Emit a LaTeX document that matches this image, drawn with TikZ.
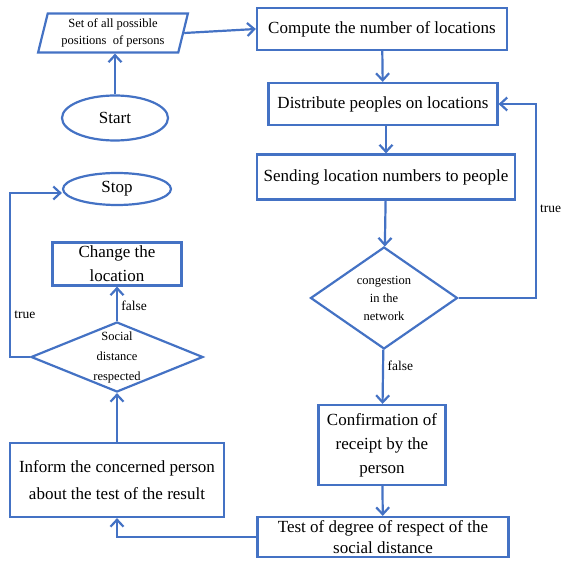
\documentclass[tikz,border=0pt]{standalone}
\usepackage{fontspec}
\setmainfont{Liberation Serif}
\usepackage{tikz}
\usetikzlibrary{shapes, arrows.meta, positioning, shapes.geometric}
\definecolor{flowblue}{RGB}{68,114,196}
\tikzset{%
  block/.style={rectangle, draw=flowblue, line width=2.2pt, align=center, inner sep=0pt, font=\fontsize{17}{24}\selectfont},
  decision/.style={diamond, draw=flowblue, line width=2.2pt, align=center, inner sep=0pt, font=\fontsize{12.5}{18}\selectfont},
  startstop/.style={ellipse, draw=flowblue, line width=2.2pt, align=center, font=\fontsize{17}{20}\selectfont},
  io/.style={trapezium, trapezium left angle=75, trapezium right angle=105, trapezium stretches=true, draw=flowblue, line width=2.2pt, align=center, inner sep=0pt, font=\fontsize{12.5}{17}\selectfont},
  lbl/.style={font=\fontsize{13.5}{16}\selectfont},
  line/.style={draw=flowblue, line width=2.2pt, -{Straight Barb[length=7pt, width=13pt]}}}

\begin{document}
\begin{tikzpicture}[x=1pt, y=-1pt]
    \useasboundingbox (0,0) rectangle (563,561);
    % Input and start
    \node (positions) [io, minimum width=150pt, minimum height=39pt] at (113,33) {Set of all possible\\positions\ \ of persons};
    \node (start) [startstop, minimum width=106pt, minimum height=45pt] at (115,118) {Start};
    % Right column
    \node (compute) [block, minimum width=250pt, minimum height=42pt] at (382,29) {Compute the number of locations};
    \node (distribute) [block, minimum width=229pt, minimum height=42pt] at (383,104) {Distribute peoples on locations};
    \node (sending) [block, minimum width=258pt, minimum height=45pt] at (386,177) {Sending location numbers to people};
    \node (congestion) [decision, minimum width=147pt, minimum height=102pt] at (384,298) {congestion\\in the\\network};
    \node (confirm) [block, minimum width=127pt, minimum height=80pt] at (382,445) {Confirmation of\\receipt by the\\person};
    \node (test) [block, minimum width=251pt, minimum height=40pt, font=\fontsize{17}{21}\selectfont] at (383,537) {Test of degree of respect of the\\social distance};
    % Left column
    \node (inform) [block, minimum width=214pt, minimum height=74pt, font=\fontsize{17}{27}\selectfont] at (117,480) {Inform the concerned person\\about the test of the result};
    \node (social) [decision, minimum width=172pt, minimum height=70pt, inner sep=-9pt, font=\fontsize{12.5}{20}\selectfont] at (117,357) {Social\\distance\\respected};
    \node (change) [block, minimum width=129pt, minimum height=43pt] at (117,264) {Change the\\location};
    \node (stop) [startstop, minimum width=108pt, minimum height=32pt] at (117,189) {Stop};
    % Arrows
    \draw[line] (start.north) -- (start.north |- positions.south);
    \draw[line] (positions.east) -- (compute.west);
    \draw[line] (compute) -- (distribute);
    \draw[line] (distribute.south -| sending.north) -- (sending.north);
    \draw[line] (sending) -- (congestion);
    \draw[line] (congestion.east) -- ++(77,0) |- (distribute.east) node[lbl, right, pos=0.23] {true};
    \draw[line] (congestion) -- node[lbl, right, pos=0.3] {false} (confirm);
    \draw[line] (confirm) -- (test);
    \draw[line] (test.west) -| (inform.south);
    \draw[line] (inform) -- (social);
    \draw[line] (social) -- node[lbl, right, pos=0.45] {false} (change);
    \draw[line] (social.west) -- ++(-20,0) |- ([yshift=-4pt]stop.west) node[lbl, right, pos=0.13] {true};
\end{tikzpicture}
\end{document}
